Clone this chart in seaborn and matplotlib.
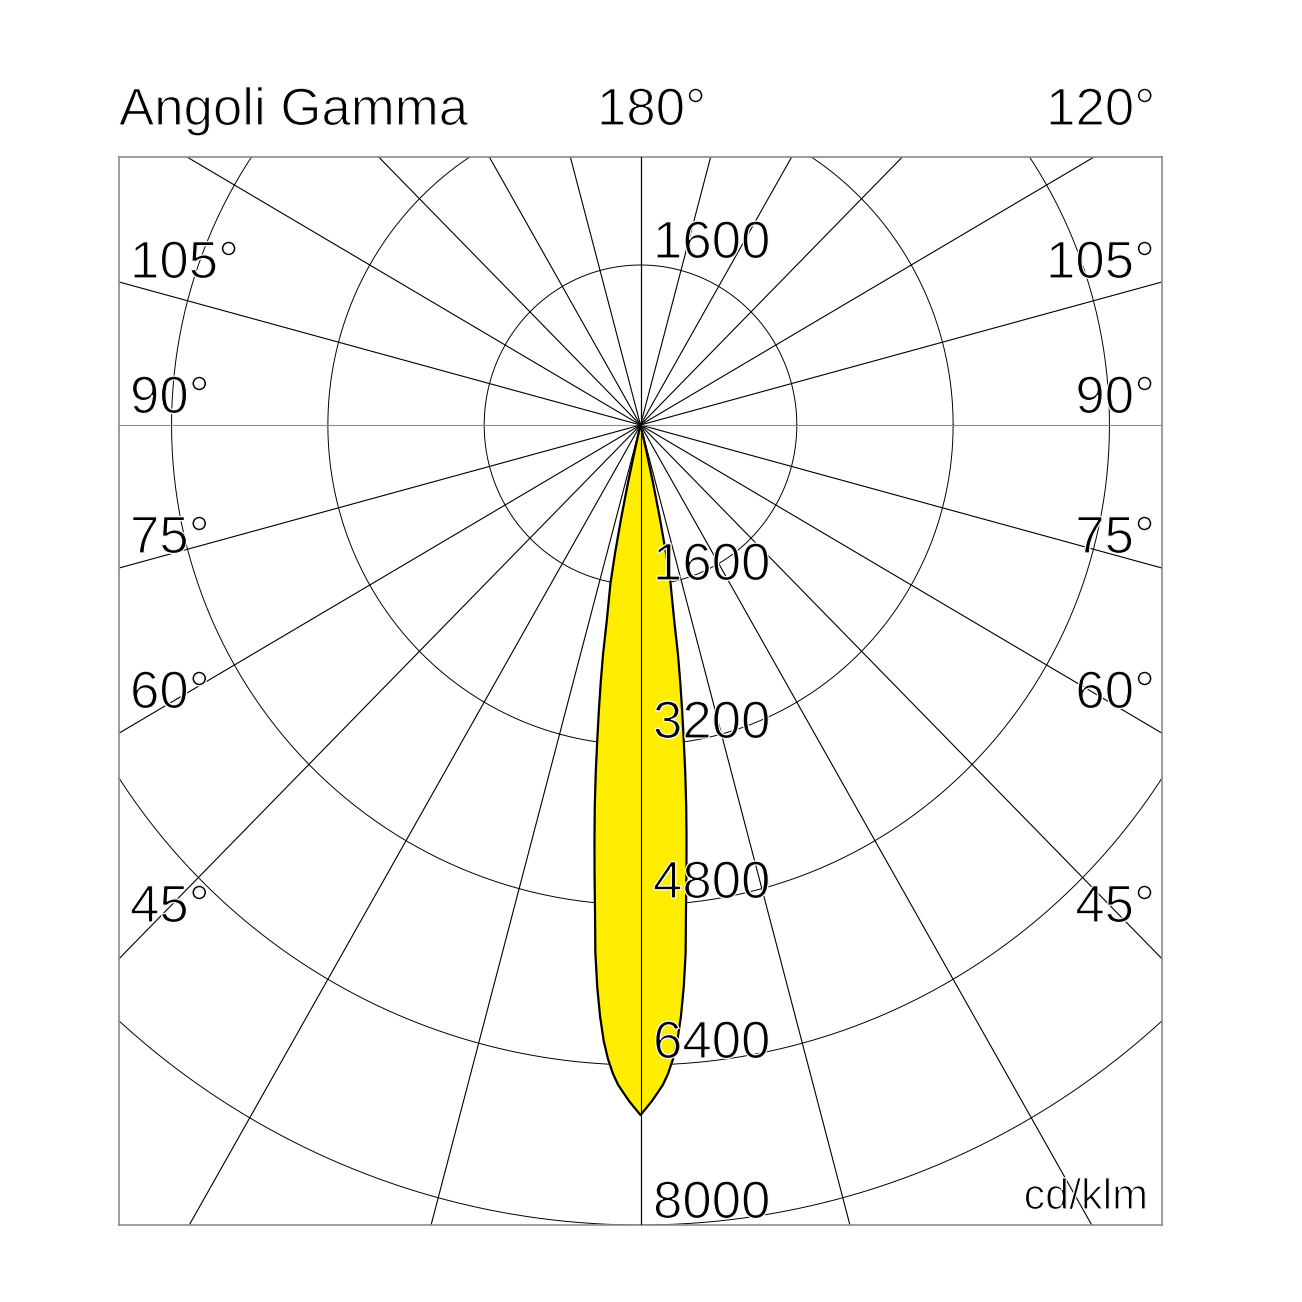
"""Polar photometric diagram (cd/klm) of a narrow beam"""
import numpy as np
import matplotlib
matplotlib.use('Agg')
import matplotlib.pyplot as plt
import matplotlib.patheffects as pe
import seaborn as sns

# Gamma angles (deg) and luminous intensity (cd/klm), C0-C180 plane, symmetric
gamma = [0.0, 0.5, 1.0, 1.5, 2.0, 2.5, 3.0, 3.5, 4.0, 4.5, 5.0, 5.5, 6.0, 6.5,
         7.0, 7.5, 8.0, 8.5, 9.0, 9.5, 10.0, 10.5, 11.0, 11.5, 12.0, 12.5,
         13.0, 13.5, 14.0]
intensity = [6900, 6830, 6760, 6680, 6600, 6490, 6350, 6170, 5930, 5640,
             5300, 4860, 4500, 4160, 3840, 3510, 3180, 2880, 2600, 2320,
             1990, 1780, 1610, 1300, 950, 600, 250, 60, 0]

ring_values = [1600, 3200, 4800, 6400, 8000]
ring_labels = ['1600', '3200', '4800', '6400', '8000']
spoke_angles = list(range(0, 360, 15))
left_angle_labels = ['105°', '90°', '75°', '60°', '45°']
right_angle_labels = ['105°', '90°', '75°', '60°', '45°']

sns.set_style('white')
plt.rcParams['font.family'] = ['Liberation Sans', 'DejaVu Sans']

W = 1302
figure = plt.figure(figsize=(W / 100, W / 100), dpi=100)
# box from pixel 119..1162 horizontally and 157..1225 vertically
axes = figure.add_axes([119 / W, 1 - 1225 / W, 1043 / W, 1068 / W])
axes.set_xlim(-5338, 5338)        #picture is slightly squeezed horizontally
axes.set_ylim(-8000, 2680)
axes.set_xticks([])
axes.set_yticks([])
for spine in axes.spines.values():
    spine.set_color('#8c8c8c')
    spine.set_linewidth(1.2)

#Rings
t = np.linspace(0, 2 * np.pi, 721)
for r in ring_values:
    axes.plot(r * np.cos(t), r * np.sin(t), color='black', lw=0.7, zorder=1)

#Spokes every 15 degrees (gamma measured from nadir)
for a in spoke_angles:
    rad = np.radians(a)
    col = '#8c8c8c' if a in (90, 270) else 'black'
    axes.plot([0, 12000 * np.sin(rad)], [0, -12000 * np.cos(rad)], color=col, lw=0.8, zorder=1)

#Light distribution curve, mirrored for negative gamma
g = np.radians(np.array(gamma, dtype=float))
i = np.array(intensity, dtype=float)
g_full = np.concatenate([-g[::-1], g[1:]])
i_full = np.concatenate([i[::-1], i[1:]])
curve_x = i_full * np.sin(g_full)
curve_y = -i_full * np.cos(g_full)
axes.fill(curve_x, curve_y, color='#ffed00', zorder=2)
sns.lineplot(x=curve_x, y=curve_y, sort=False, estimator=None, color='black', lw=1.6, ax=axes, zorder=3)
axes.plot([0, 0], [2680, -8000], color='black', lw=0.8, zorder=4)

#thin the glyphs a little (reference uses a light grotesque)
thin = [pe.Normal(), pe.Stroke(linewidth=0.9, foreground='white')]

def label(x, y, s, ha='left', size=38):
    figure.text(x / W, 1 - y / W, s, ha=ha, va='baseline', fontsize=size, color='black',
                path_effects=thin)

label(119, 125, 'Angoli Gamma')
label(597, 125, '180°')
label(1155, 125, '120°', ha='right')
for s, y in zip(left_angle_labels, [278, 413, 553, 708, 922]):
    label(130, y, s)
for s, y in zip(right_angle_labels, [278, 413, 553, 708, 922]):
    label(1155, y, s, ha='right')
label(653, 258, ring_labels[0])
for s, y in zip(ring_labels, [580, 738, 898, 1058, 1218]):
    label(653, y, s)
label(1148, 1209, 'cd/klm', ha='right', size=31)

figure.savefig('out.png', dpi=100)
